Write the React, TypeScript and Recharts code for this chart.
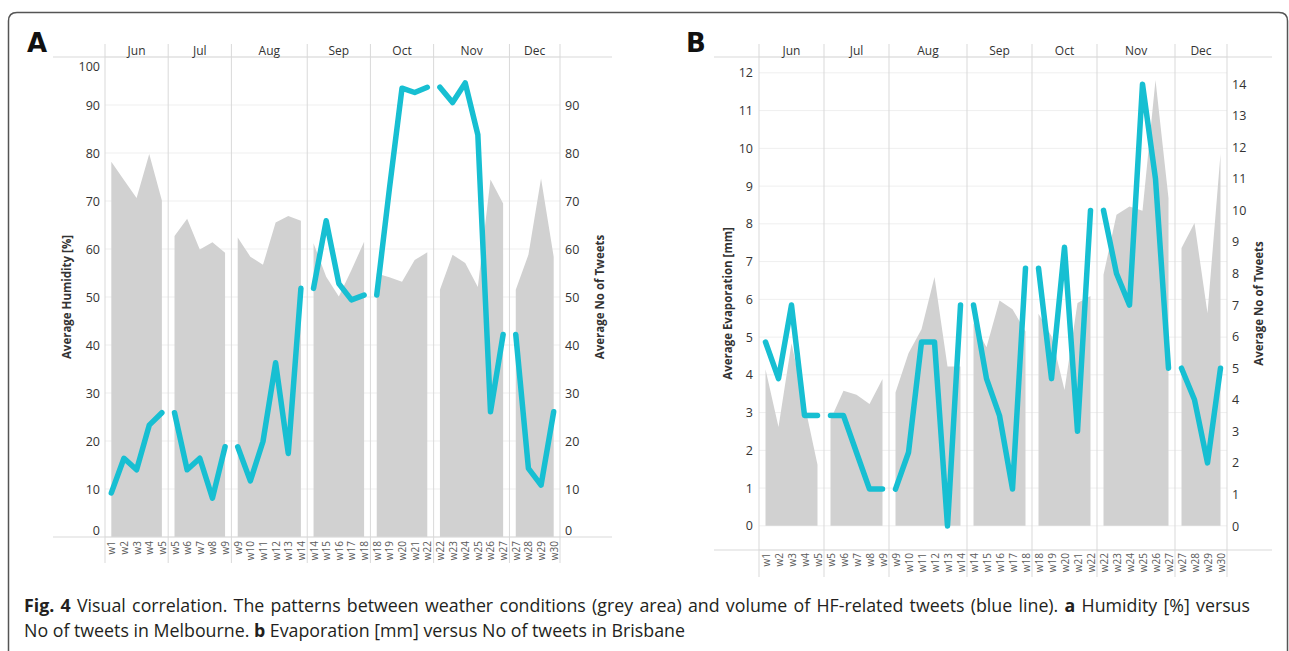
import React from "react";
import {
  Area,
  CartesianGrid,
  ComposedChart,
  Line,
  ReferenceArea,
  ReferenceLine,
  XAxis,
  YAxis,
} from "recharts";

// facets: each month holds the weeks that touch it (boundary weeks repeat)
const MONTHS = ["Jun", "Jul", "Aug", "Sep", "Oct", "Nov", "Dec"];
const MONTH_WEEKS = [
  ["w1", "w2", "w3", "w4", "w5"],
  ["w5", "w6", "w7", "w8", "w9"],
  ["w9", "w10", "w11", "w12", "w13", "w14"],
  ["w14", "w15", "w16", "w17", "w18"],
  ["w18", "w19", "w20", "w21", "w22"],
  ["w22", "w23", "w24", "w25", "w26", "w27"],
  ["w27", "w28", "w29", "w30"],
];

// panel A - Melbourne
const HUMIDITY = [
  [78.2, 74.4, 70.6, 79.8, 70.1],
  [62.7, 66.3, 59.9, 61.4, 59.2],
  [62.4, 58.4, 56.7, 65.5, 66.9, 65.9],
  [61.2, 54.2, 50.1, 55.6, 61.5],
  [54.9, 54.1, 53.2, 57.7, 59.3],
  [51.5, 58.8, 57.1, 52.1, 74.5, 69.5],
  [51.5, 58.8, 74.7, 58.4],
];
const TWEETS_MELBOURNE = [
  [9.2, 16.4, 14.0, 23.3, 25.9],
  [25.9, 14.0, 16.4, 8.1, 18.8],
  [18.8, 11.7, 19.9, 36.3, 17.4, 51.8],
  [51.8, 65.9, 52.8, 49.4, 50.4],
  [50.4, 72.5, 93.5, 92.6, 93.7],
  [93.7, 90.5, 94.6, 83.8, 26.1, 42.2],
  [42.2, 14.3, 10.8, 26.1],
];

// panel B - Brisbane
const EVAPORATION = [
  [4.15, 2.62, 4.84, 3.23, 1.62],
  [2.81, 3.58, 3.47, 3.23, 3.89],
  [3.53, 4.57, 5.21, 6.59, 4.22, 4.22],
  [5.37, 4.73, 5.97, 5.74, 5.15],
  [5.62, 5.02, 3.6, 5.9, 6.09],
  [6.65, 8.24, 8.46, 8.35, 11.81, 8.68],
  [7.36, 8.02, 5.63, 9.85],
];
const TWEETS_BRISBANE = [
  [5.83, 4.67, 7, 3.5, 3.5],
  [3.5, 3.5, 2.33, 1.17, 1.17],
  [1.17, 2.33, 5.83, 5.83, 0, 7],
  [7, 4.67, 3.5, 1.17, 8.17],
  [8.17, 4.67, 8.83, 3, 10],
  [10, 8, 7, 14, 11, 5],
  [5, 4, 2, 5],
];

const HUMIDITY_TICKS = [0, 10, 20, 30, 40, 50, 60, 70, 80, 90, 100];
const TWEETS_A_TICKS = [0, 10, 20, 30, 40, 50, 60, 70, 80, 90];
const EVAP_TICKS = [0, 1, 2, 3, 4, 5, 6, 7, 8, 9, 10, 11, 12];
const TWEETS_B_TICKS = [0, 1, 2, 3, 4, 5, 6, 7, 8, 9, 10, 11, 12, 13, 14];

const GREY = "#d1d1d1";
const TEAL = "#17bfd2";
const RULE = "#d9d9d9";
const FONT = "'Open Sans', 'Noto Sans', sans-serif";

type Row = Record<string, string | number>;

function buildRows(area: number[][], line: number[][]): Row[] {
  const rows: Row[] = [];
  MONTHS.forEach((m, mi) => {
    MONTH_WEEKS[mi].forEach((w, wi) => {
      const row: Row = { key: `${m}-${w}`, month: m, week: w };
      row[`a${mi}`] = area[mi][wi];
      row[`l${mi}`] = line[mi][wi];
      rows.push(row);
    });
  });
  return rows;
}

const rowsA = buildRows(HUMIDITY, TWEETS_MELBOURNE);
const rowsB = buildRows(EVAPORATION, TWEETS_BRISBANE);

function WeekTick(props: any) {
  const { x, y, payload } = props;
  const week = String(payload.value).split("-")[1];
  return (
    <text
      x={x}
      y={y}
      transform={`rotate(-90 ${x} ${y})`}
      textAnchor="end"
      dominantBaseline="central"
      fontSize={10}
      fill="#5a5a5a"
      fontFamily={FONT}
    >
      {week}
    </text>
  );
}

function makeYTick(anchor: "start" | "end", shifts: Record<number, number>) {
  return (props: any) => {
    const { x, y, payload } = props;
    const dy = shifts[payload.value] ?? 0;
    return (
      <text
        x={x}
        y={y + dy}
        textAnchor={anchor}
        dominantBaseline="central"
        fontSize={12.5}
        fill="#333"
        fontFamily={FONT}
      >
        {payload.value}
      </text>
    );
  };
}

interface PanelProps {
  rows: Row[];
  margin: { top: number; right: number; bottom: number; left: number };
  leftWidth: number;
  rightWidth: number;
  xHeight: number;
  leftDomain: [number, number];
  rightDomain: [number, number];
  leftTicks: number[];
  rightTicks: number[];
  leftTitle: string;
  rightTitle: string;
  leftTitleOffset: number;
  rightTitleOffset: number;
  leftTickMargin: number;
  rightTickMargin: number;
  xTickMargin: number;
  leftShift: Record<number, number>;
  rightShift: Record<number, number>;
  ruleExt: [number, number];
  dividerExt: [number, number];
  width: number;
}

const titleStyle = {
  textAnchor: "middle" as const,
  fontWeight: 700,
  fontSize: 11.5,
  fill: "#333",
  fontFamily: FONT,
};

function Panel(p: PanelProps) {
  const monthFirst = MONTHS.map((m, mi) => `${m}-${MONTH_WEEKS[mi][0]}`);
  const monthLast = MONTHS.map(
    (m, mi) => `${m}-${MONTH_WEEKS[mi][MONTH_WEEKS[mi].length - 1]}`
  );

  const hRule = (s: any) => (
    <line
      x1={Math.min(s.x1, s.x2) - p.ruleExt[0]}
      x2={Math.max(s.x1, s.x2) + p.ruleExt[1]}
      y1={s.y1}
      y2={s.y2}
      stroke={RULE}
      strokeWidth={1}
    />
  );
  const vRule = (s: any) => (
    <line
      x1={s.x1}
      x2={s.x2}
      y1={Math.min(s.y1, s.y2) - p.dividerExt[0]}
      y2={Math.max(s.y1, s.y2) + p.dividerExt[1]}
      stroke={RULE}
      strokeWidth={1}
    />
  );

  return (
    <ComposedChart width={p.width} height={600} data={p.rows} margin={p.margin}>
      <CartesianGrid xAxisId="w" yAxisId="left" vertical={false} stroke="#efefef" />
      <XAxis
        xAxisId="w"
        dataKey="key"
        scale="band"
        interval={0}
        height={p.xHeight}
        axisLine={false}
        tickLine={false}
        tickSize={0}
        tickMargin={p.xTickMargin}
        tick={<WeekTick />}
      />
      <YAxis
        yAxisId="left"
        type="number"
        domain={p.leftDomain}
        allowDataOverflow
        ticks={p.leftTicks}
        interval={0}
        width={p.leftWidth}
        axisLine={false}
        tickLine={false}
        tickSize={0}
        tickMargin={p.leftTickMargin}
        tick={makeYTick("end", p.leftShift)}
        label={{
          value: p.leftTitle,
          angle: -90,
          position: "insideLeft",
          offset: p.leftTitleOffset,
          style: titleStyle,
        }}
      />
      <YAxis
        yAxisId="right"
        orientation="right"
        type="number"
        domain={p.rightDomain}
        allowDataOverflow
        ticks={p.rightTicks}
        interval={0}
        width={p.rightWidth}
        axisLine={false}
        tickLine={false}
        tickSize={0}
        tickMargin={p.rightTickMargin}
        tick={makeYTick("start", p.rightShift)}
        label={{
          value: p.rightTitle,
          angle: -90,
          position: "insideRight",
          offset: p.rightTitleOffset,
          style: titleStyle,
        }}
      />

      {MONTHS.map((m, mi) => (
        <ReferenceArea
          key={`head-${m}`}
          xAxisId="w"
          yAxisId="left"
          x1={monthFirst[mi]}
          x2={monthLast[mi]}
          fill="none"
          stroke="none"
          ifOverflow="visible"
          label={{
            value: m,
            position: "top",
            offset: 2,
            fill: "#333",
            fontSize: 12,
            fontFamily: FONT,
          }}
        />
      ))}
      <ReferenceLine
        xAxisId="w"
        yAxisId="left"
        x={monthFirst[0]}
        position="start"
        ifOverflow="visible"
        shape={vRule}
      />
      {monthLast.map((k) => (
        <ReferenceLine
          key={`div-${k}`}
          xAxisId="w"
          yAxisId="left"
          x={k}
          position="end"
          ifOverflow="visible"
          shape={vRule}
        />
      ))}
      <ReferenceLine xAxisId="w" yAxisId="left" y={p.leftDomain[1]} ifOverflow="visible" shape={hRule} />
      <ReferenceLine xAxisId="w" yAxisId="left" y={p.leftDomain[0]} ifOverflow="visible" shape={hRule} />

      {MONTHS.map((m, mi) => (
        <Area
          key={`area-${m}`}
          xAxisId="w"
          yAxisId="left"
          dataKey={`a${mi}`}
          type="linear"
          stroke="none"
          fill={GREY}
          fillOpacity={1}
          dot={false}
          activeDot={false}
          isAnimationActive={false}
        />
      ))}
      {MONTHS.map((m, mi) => (
        <Line
          key={`line-${m}`}
          xAxisId="w"
          yAxisId="right"
          dataKey={`l${mi}`}
          type="linear"
          stroke={TEAL}
          strokeWidth={5.5}
          strokeLinecap="round"
          strokeLinejoin="round"
          dot={false}
          activeDot={false}
          isAnimationActive={false}
        />
      ))}
    </ComposedChart>
  );
}

export default function App() {
  return (
    <div
      style={{
        position: "fixed",
        left: 0,
        top: 0,
        width: 1289,
        height: 651,
        background: "#fff",
        overflow: "hidden",
      }}
    >
      <svg width={1289} height={651} style={{ position: "absolute", left: 0, top: 0 }}>
        <path
          d="M8.5 700 V21 Q8.5 12.5 17 12.5 H1279 Q1287.5 12.5 1287.5 21 V700"
          fill="none"
          stroke="#555"
          strokeWidth={1.5}
        />
        <text x={27} y={52} fontFamily="DejaVu Sans" fontWeight={700} fontSize={26} fill="#111">
          A
        </text>
        <text x={686} y={52} fontFamily="DejaVu Sans" fontWeight={700} fontSize={26} fill="#111">
          B
        </text>
      </svg>

      <div style={{ position: "absolute", left: 0, top: 0 }}>
        <Panel
          rows={rowsA}
          width={640}
          margin={{ top: 57, right: 22, bottom: 23, left: 55 }}
          leftWidth={50}
          rightWidth={58}
          xHeight={40}
          leftDomain={[0, 100]}
          rightDomain={[0, 100]}
          leftTicks={HUMIDITY_TICKS}
          rightTicks={TWEETS_A_TICKS}
          leftTitle="Average Humidity [%]"
          rightTitle="Average No of Tweets"
          leftTitleOffset={12}
          rightTitleOffset={18}
          leftTickMargin={5}
          rightTickMargin={5}
          xTickMargin={4}
          leftShift={{ 0: -7, 100: 9 }}
          rightShift={{ 0: -7 }}
          ruleExt={[52, 52]}
          dividerExt={[13, 26]}
        />
      </div>

      <div style={{ position: "absolute", left: 640, top: 0 }}>
        <Panel
          rows={rowsB}
          width={649}
          margin={{ top: 57, right: 12, bottom: 20, left: 62 }}
          leftWidth={57}
          rightWidth={50}
          xHeight={30}
          leftDomain={[-0.64, 12.42]}
          rightDomain={[-0.76, 14.86]}
          leftTicks={EVAP_TICKS}
          rightTicks={TWEETS_B_TICKS}
          leftTitle="Average Evaporation [mm]"
          rightTitle="Average No of Tweets"
          leftTitleOffset={26}
          rightTitleOffset={18}
          leftTickMargin={6}
          rightTickMargin={5}
          xTickMargin={3}
          leftShift={{}}
          rightShift={{}}
          ruleExt={[45, 45]}
          dividerExt={[13, 27]}
        />
      </div>

      <div
        style={{
          position: "absolute",
          left: 24,
          top: 593,
          width: 1226,
          fontFamily: FONT,
          fontSize: 17.8,
          lineHeight: "25px",
          color: "#231f20",
        }}
      >
        <div style={{ textAlign: "justify", textAlignLast: "justify", whiteSpace: "nowrap" }}>
          <b>Fig. 4</b> Visual correlation. The patterns between weather conditions (grey area)
          and volume of HF-related tweets (blue line). <b>a</b> Humidity [%] versus
        </div>
        <div>
          No of tweets in Melbourne. <b>b</b> Evaporation [mm] versus No of tweets in Brisbane
        </div>
      </div>
    </div>
  );
}
